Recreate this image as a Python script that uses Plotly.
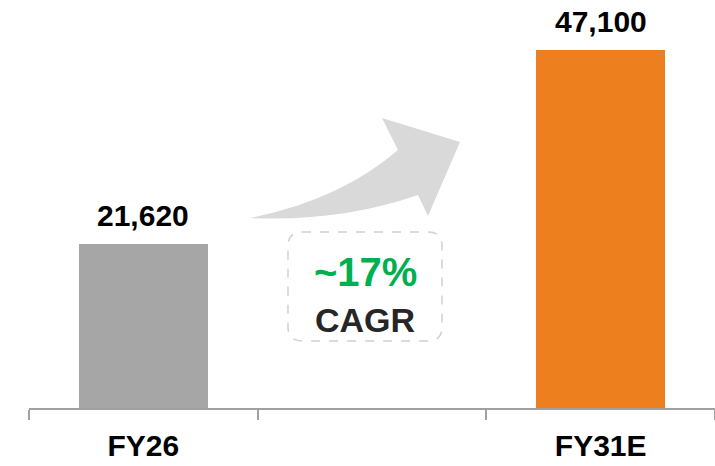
import plotly.graph_objects as go

categories = ["FY26", "FY31E"]
values = [21620, 47100]
bar_colors = ["#A6A6A6", "#EE7F1E"]
cagr_text = "~17%"
cagr_label = "CAGR"

W, H = 715, 466
ML, MR, MT, MB = 29, 0, 10, 58
PW, PH = W - ML - MR, H - MT - MB

def px(x):
    return (x - ML) / PW

def py(y):
    return (H - MB - y) / PH

x_pos = [0, 2]
FONT = "Liberation Sans, Arial"

fig = go.Figure()
fig.add_trace(go.Bar(
    x=x_pos, y=values, width=0.565,
    marker=dict(color=bar_colors, line=dict(width=0)),
    cliponaxis=False, hoverinfo="skip",
))
for xv, v in zip(x_pos, values):
    fig.add_annotation(x=xv, y=v, xref="x", yref="y", text=f"{v:,}", showarrow=False,
                       xanchor="center", yanchor="bottom", yshift=10,
                       font=dict(family=FONT, size=30, color="#000000", weight="bold"))

# curved arrow
pts = dict(
    tail=(250, 218), c1=(340, 200), top=(398, 150), hl=(382, 118),
    tip=(460, 142), hb=(428, 216), inner=(418, 195), c2=(340, 222),
)
def P(k):
    x, y = pts[k]
    return f"{px(x):.5f},{py(y):.5f}"
arrow_path = (f"M {P('tail')} Q {P('c1')} {P('top')} L {P('hl')} L {P('tip')} "
              f"L {P('hb')} L {P('inner')} Q {P('c2')} {P('tail')} Z")
fig.add_shape(type="path", xref="paper", yref="paper", path=arrow_path,
              fillcolor="#D9D9D9", line=dict(width=0), layer="below")

# dashed rounded box
x0, y0, x1, y1, r = 288, 232, 442, 341, 14
def Q(x, y):
    return f"{px(x):.5f},{py(y):.5f}"
box_path = (f"M {Q(x0+r,y0)} L {Q(x1-r,y0)} Q {Q(x1,y0)} {Q(x1,y0+r)} "
            f"L {Q(x1,y1-r)} Q {Q(x1,y1)} {Q(x1-r,y1)} L {Q(x0+r,y1)} "
            f"Q {Q(x0,y1)} {Q(x0,y1-r)} L {Q(x0,y0+r)} Q {Q(x0,y0)} {Q(x0+r,y0)} Z")
fig.add_shape(type="path", xref="paper", yref="paper", path=box_path,
              fillcolor="rgba(0,0,0,0)", line=dict(color="#D0D0D0", width=1.5, dash="dash"))

fig.add_annotation(x=px(365), y=py(272), xref="paper", yref="paper", text=cagr_text,
                   showarrow=False, xanchor="center", yanchor="middle",
                   font=dict(family=FONT, size=40, color="#00B050", weight="bold"))
fig.add_annotation(x=px(365), y=py(320), xref="paper", yref="paper", text=cagr_label,
                   showarrow=False, xanchor="center", yanchor="middle",
                   font=dict(family=FONT, size=34, color="#262626", weight="bold"))

fig.update_xaxes(
    range=[-0.5, 2.5], tickmode="array", tickvals=x_pos, ticktext=categories,
    ticks="", showgrid=False, zeroline=False, automargin=False,
    showline=True, linecolor="#A0A0A0", linewidth=2,
    tickfont=dict(family=FONT, size=30, color="#000000", weight="bold"),
    ticklabelstandoff=10,
    minor=dict(tickmode="array", tickvals=[-0.5, 0.5, 1.5, 2.5], ticks="outside",
               ticklen=10, tickwidth=2, tickcolor="#A0A0A0", showgrid=False),
    fixedrange=True,
)
fig.update_yaxes(range=[0, 47100 * PH / 358], visible=False, showgrid=False,
                 automargin=False, fixedrange=True)

fig.update_layout(
    width=W, height=H, margin=dict(l=ML, r=MR, t=MT, b=MB, autoexpand=False),
    paper_bgcolor="white", plot_bgcolor="white", showlegend=False, bargap=0,
)
fig.write_html("out.html", config={"displayModeBar": False},
               post_script="document.body.style.margin='0';document.body.style.overflow='hidden';")
